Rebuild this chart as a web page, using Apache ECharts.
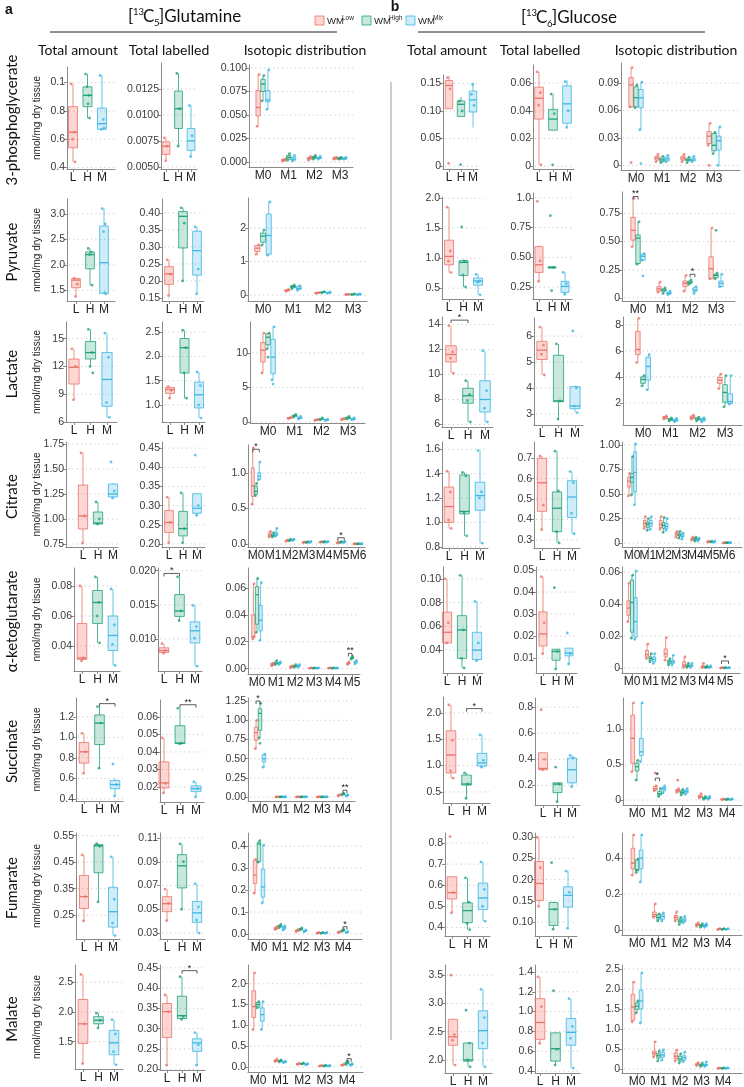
<!DOCTYPE html>
<html><head><meta charset="utf-8">
<script src="https://cdn.jsdelivr.net/npm/echarts@6/dist/echarts.min.js"></script>
<style>html,body{margin:0;padding:0;background:#fff}#c{width:744px;height:1087px}</style>
</head><body><div id="c"></div>
<script>
// ---------- categories ----------
const TOT = ['L', 'H', 'M'];
const ISO4 = ['M0', 'M1', 'M2', 'M3'];
const ISO5 = ['M0', 'M1', 'M2', 'M3', 'M4'];
const ISO6 = ['M0', 'M1', 'M2', 'M3', 'M4', 'M5'];
const ISO7 = ['M0', 'M1', 'M2', 'M3', 'M4', 'M5', 'M6'];
const GROUP_NAMES = ['Low', 'High', 'Mix'];
const ROW_NAMES = ['3-phosphoglycerate', 'Pyruvate', 'Lactate', 'Citrate', 'α-ketoglutarate', 'Succinate', 'Fumarate', 'Malate'];
const COL_NAMES = ['Total amount', 'Total labelled', 'Isotopic distribution'];

// box = [min, q1, median, q3, max] for L, H, M ; pts = visible points ; out = [isotopologue, group, value]
// ---- 3-phosphoglycerate ----
const pgQA_ticks = [0.4, 0.6, 0.8, 1.0];
const pgQA_labels = ['0.4', '0.6', '0.8', '0.1'];
const pgQA_box = [[0.44, 0.54, 0.65, 0.83, 0.99], [0.75, 0.83, 0.91, 0.97, 1.06], [0.67, 0.67, 0.71, 0.82, 1.05]];
const pgQA_pts = [[0.99, 0.65, 0.60, 0.44], [1.06, 0.91, 0.97, 0.75, 0.85], [1.05, 0.74, 0.67, 0.68]];
const pgQL_ticks = [0.005, 0.0075, 0.01, 0.0125];
const pgQL_labels = ['0.0050', '0.0075', '0.0100', '0.0125'];
const pgQL_box = [[0.0056, 0.0062, 0.0070, 0.0074, 0.0078], [0.0070, 0.0087, 0.0106, 0.0123, 0.0140], [0.0060, 0.0066, 0.0075, 0.0087, 0.0109]];
const pgQL_pts = [[0.0078, 0.0070, 0.0056], [0.0140, 0.0106, 0.0070], [0.0109, 0.0080, 0.0060]];
const pgQI_ticks = [0, 0.025, 0.05, 0.075, 0.1];
const pgQI_labels = ['0.000', '0.025', '0.050', '0.075', '0.100'];
const pgQI_box = [
  [[0.038, 0.049, 0.058, 0.076, 0.093], [0.065, 0.075, 0.083, 0.088, 0.092], [0.056, 0.064, 0.066, 0.076, 0.098]],
  [[0.001, 0.001, 0.002, 0.003, 0.003], [0.002, 0.003, 0.005, 0.007, 0.009], [0.001, 0.002, 0.003, 0.005, 0.007]],
  [[0.002, 0.003, 0.004, 0.005, 0.006], [0.003, 0.004, 0.005, 0.006, 0.007], [0.003, 0.004, 0.004, 0.005, 0.006]],
  [[0.003, 0.003, 0.004, 0.005, 0.005], [0.003, 0.003, 0.004, 0.005, 0.005], [0.003, 0.003, 0.004, 0.004, 0.005]]];
const pgGA_ticks = [0, 0.05, 0.1, 0.15];
const pgGA_labels = ['0', '0.05', '0.10', '0.15'];
const pgGA_box = [[0.104, 0.104, 0.146, 0.155, 0.163], [0.090, 0.090, 0.112, 0.118, 0.125], [0.070, 0.098, 0.120, 0.136, 0.151]];
const pgGA_pts = [[0.160, 0.140, 0.005], [0.118, 0.100, 0.003], [0.130, 0.110, 0.148]];
const pgGL_ticks = [0, 0.02, 0.04, 0.06];
const pgGL_labels = ['0', '0.02', '0.04', '0.06'];
const pgGL_box = [[0.001, 0.034, 0.049, 0.057, 0.068], [0.026, 0.026, 0.034, 0.041, 0.052], [0.028, 0.031, 0.045, 0.058, 0.062]];
const pgGL_pts = [[0.068, 0.053, 0.044, 0.001], [0.052, 0.038, 0.001], [0.061, 0.040, 0.028]];
const pgGI_ticks = [0, 0.03, 0.06, 0.09];
const pgGI_labels = ['0', '0.03', '0.06', '0.09'];
const pgGI_box = [
  [[0.064, 0.064, 0.088, 0.096, 0.107], [0.063, 0.064, 0.074, 0.086, 0.088], [0.039, 0.063, 0.074, 0.083, 0.091]],
  [[0.004, 0.006, 0.008, 0.010, 0.012], [0.003, 0.004, 0.006, 0.008, 0.010], [0.004, 0.005, 0.007, 0.009, 0.011]],
  [[0.004, 0.006, 0.008, 0.010, 0.012], [0.003, 0.005, 0.006, 0.007, 0.009], [0.004, 0.005, 0.006, 0.008, 0.010]],
  [[0.022, 0.024, 0.032, 0.037, 0.046], [0.013, 0.016, 0.022, 0.035, 0.036], [0.0, 0.017, 0.027, 0.032, 0.042]]];
const pgGI_out = [[0, 0, 0.003], [0, 2, 0.002], [3, 0, 0.0]];

// ---- Pyruvate ----
const pyrQA_ticks = [1.5, 2, 2.5, 3];
const pyrQA_labels = ['1.5', '2.0', '2.5', '3.0'];
const pyrQA_box = [[1.38, 1.55, 1.70, 1.73, 1.74], [1.60, 1.92, 2.20, 2.25, 2.32], [1.43, 1.44, 2.04, 2.76, 3.10]];
const pyrQA_pts = [[1.74, 1.62, 1.38], [2.32, 2.25, 2.20, 1.60], [3.10, 2.80, 2.65, 1.43, 1.45]];
const pyrQL_ticks = [0.15, 0.2, 0.25, 0.3, 0.35, 0.4];
const pyrQL_labels = ['0.15', '0.20', '0.25', '0.30', '0.35', '0.40'];
const pyrQL_box = [[0.157, 0.190, 0.221, 0.242, 0.262], [0.200, 0.297, 0.390, 0.404, 0.415], [0.162, 0.217, 0.289, 0.346, 0.359]];
const pyrQL_pts = [[0.262, 0.220, 0.157], [0.415, 0.370, 0.200], [0.359, 0.235, 0.162]];
const pyrQI_ticks = [0, 1, 2];
const pyrQI_labels = ['0', '1', '2'];
const pyrQI_box = [
  [[1.22, 1.30, 1.40, 1.48, 1.50], [1.49, 1.58, 1.76, 1.85, 1.94], [1.19, 1.22, 1.78, 2.42, 2.78]],
  [[0.11, 0.12, 0.14, 0.16, 0.17], [0.18, 0.22, 0.25, 0.28, 0.30], [0.14, 0.17, 0.20, 0.25, 0.28]],
  [[0.05, 0.06, 0.07, 0.07, 0.08], [0.06, 0.07, 0.08, 0.09, 0.10], [0.05, 0.06, 0.07, 0.08, 0.09]],
  [[0.01, 0.01, 0.02, 0.02, 0.02], [0.01, 0.02, 0.02, 0.02, 0.03], [0.01, 0.01, 0.02, 0.02, 0.03]]];
const pyrGA_ticks = [0.5, 1, 1.5, 2];
const pyrGA_labels = ['0.5', '1.0', '1.5', '2.0'];
const pyrGA_box = [[0.76, 0.89, 1.03, 1.30, 1.85], [0.52, 0.71, 0.93, 0.96, 0.98], [0.39, 0.55, 0.62, 0.67, 0.73]];
const pyrGA_pts = [[1.85, 1.12, 0.95, 0.76], [1.52, 0.95, 0.72, 0.52], [0.73, 0.62, 0.60, 0.39]];
const pyrGL_ticks = [0.25, 0.5, 0.75, 1.0];
const pyrGL_labels = ['0.25', '0.50', '0.75', '1.0'];
const pyrGL_box = [[0.298, 0.373, 0.437, 0.590, 0.600], [0.410, 0.410, 0.415, 0.420, 0.420], [0.186, 0.206, 0.256, 0.298, 0.373]];
const pyrGL_pts = [[0.97, 0.47, 0.298], [0.85, 0.415, 0.22], [0.373, 0.28, 0.19]];
const pyrGI_ticks = [0, 0.25, 0.5, 0.75];
const pyrGI_labels = ['0', '0.25', '0.50', '0.75'];
const pyrGI_box = [
  [[0.454, 0.513, 0.600, 0.715, 0.884], [0.300, 0.305, 0.530, 0.558, 0.675], [0.335, 0.335, 0.370, 0.388, 0.394]],
  [[0.05, 0.06, 0.08, 0.10, 0.14], [0.04, 0.06, 0.07, 0.08, 0.09], [0.03, 0.035, 0.04, 0.05, 0.06]],
  [[0.06, 0.10, 0.13, 0.15, 0.20], [0.12, 0.13, 0.14, 0.15, 0.16], [0.04, 0.06, 0.07, 0.09, 0.10]],
  [[0.17, 0.17, 0.26, 0.365, 0.62], [0.17, 0.18, 0.20, 0.21, 0.22], [0.10, 0.10, 0.13, 0.15, 0.21]]];
const pyrGI_out = [[0, 2, 0.196], [3, 1, 0.60]];
const pyrGI_ann = [[-0.19, 0, 0.90, '**'], [2, 2.19, 0.21, '*']];

// ---- Lactate ----
const lacQA_ticks = [6, 9, 12, 15];
const lacQA_labels = ['6', '9', '12', '15'];
const lacQA_box = [[8.4, 10.1, 11.9, 12.8, 13.9], [12.0, 12.8, 13.5, 14.7, 16.0], [6.5, 7.7, 10.6, 13.5, 15.6]];
const lacQA_pts = [[13.9, 12.0, 8.4], [16.0, 13.5, 12.0, 11.3], [15.6, 13.0, 8.1, 6.5]];
const lacQL_ticks = [1, 1.5, 2, 2.5];
const lacQL_labels = ['1.0', '1.5', '2.0', '2.5'];
const lacQL_box = [[1.14, 1.24, 1.32, 1.36, 1.38], [1.14, 1.66, 2.18, 2.37, 2.54], [0.73, 0.94, 1.21, 1.47, 1.68]];
const lacQL_pts = [[1.38, 1.30, 1.14], [2.54, 2.18, 1.66, 1.14], [1.68, 1.40, 1.00, 0.73]];
const lacQI_ticks = [0, 5, 10];
const lacQI_labels = ['0', '5', '10'];
const lacQI_box = [
  [[7.1, 8.7, 10.4, 11.5, 12.9], [10.6, 11.2, 12.3, 12.8, 12.9], [6.1, 7.0, 9.4, 12.0, 13.8]],
  [[0.45, 0.5, 0.6, 0.65, 0.7], [0.7, 0.8, 0.9, 1.0, 1.1], [0.4, 0.5, 0.6, 0.7, 0.8]],
  [[0.2, 0.25, 0.3, 0.35, 0.4], [0.3, 0.4, 0.45, 0.5, 0.6], [0.2, 0.25, 0.3, 0.35, 0.4]],
  [[0.3, 0.35, 0.4, 0.45, 0.5], [0.4, 0.5, 0.6, 0.7, 0.8], [0.3, 0.35, 0.4, 0.5, 0.6]]];
const lacQI_out = [[0, 1, 9.4], [0, 2, 5.5]];
const lacGA_ticks = [6, 8, 10, 12, 14];
const lacGA_labels = ['6', '8', '10', '12', '14'];
const lacGA_box = [[10.1, 11.0, 11.6, 12.3, 13.9], [6.2, 7.7, 8.3, 8.9, 9.5], [6.2, 7.0, 8.0, 9.5, 11.9]];
const lacGA_pts = [[13.9, 11.8, 11.3, 10.1], [9.5, 8.4, 7.9, 6.2], [11.9, 8.7, 7.3, 6.2]];
const lacGA_ann = [[0, 1, 14.35, '*']];
const lacGL_ticks = [3, 4, 5, 6];
const lacGL_labels = ['3', '4', '5', '6'];
const lacGL_box = [[4.5, 5.1, 5.46, 5.8, 6.35], [2.8, 3.47, 3.5, 5.26, 5.7], [3.05, 3.2, 3.3, 4.05, 4.1]];
const lacGL_pts = [[6.35, 5.65, 5.3, 4.5], [5.7, 3.5, 2.8], [6.2, 4.0, 3.3, 3.05]];
const lacGI_ticks = [2, 4, 6, 8];
const lacGI_labels = ['2', '4', '6', '8'];
const lacGI_box = [
  [[5.1, 5.7, 6.1, 7.5, 8.5], [3.3, 3.5, 3.8, 4.0, 4.1], [3.0, 3.75, 4.8, 5.5, 5.7]],
  [[0.75, 0.8, 0.9, 0.95, 1.0], [0.6, 0.65, 0.75, 0.8, 0.85], [0.55, 0.6, 0.65, 0.75, 0.8]],
  [[0.75, 0.8, 0.9, 1.0, 1.05], [0.6, 0.7, 0.75, 0.85, 0.9], [0.55, 0.6, 0.7, 0.8, 0.85]],
  [[3.1, 3.5, 3.75, 3.95, 4.2], [1.7, 2.05, 2.8, 3.4, 4.1], [1.9, 1.95, 2.1, 2.7, 4.1]]];

// ---- Citrate ----
const citQA_ticks = [0.75, 1, 1.25, 1.5, 1.75];
const citQA_labels = ['0.75', '1.00', '1.25', '1.50', '1.75'];
const citQA_box = [[0.76, 0.90, 1.03, 1.34, 1.66], [0.94, 0.95, 0.96, 1.07, 1.17], [1.21, 1.22, 1.25, 1.35, 1.36]];
const citQA_pts = [[1.66, 1.03, 0.76], [1.17, 1.00, 0.95], [1.57, 1.28, 1.21]];
const citQL_ticks = [0.2, 0.25, 0.3, 0.35, 0.4, 0.45];
const citQL_labels = ['0.20', '0.25', '0.30', '0.35', '0.40', '0.45'];
const citQL_box = [[0.203, 0.230, 0.256, 0.287, 0.322], [0.203, 0.221, 0.240, 0.285, 0.333], [0.272, 0.280, 0.293, 0.331, 0.331]];
const citQL_pts = [[0.322, 0.256, 0.203], [0.333, 0.240, 0.203], [0.432, 0.300, 0.275]];
const citQI_ticks = [0, 0.5, 1];
const citQI_labels = ['0.0', '0.5', '1.0'];
const citQI_box = [
  [[0.56, 0.67, 0.82, 1.07, 1.35], [0.68, 0.70, 0.74, 0.81, 0.85], [0.90, 0.91, 0.95, 1.00, 1.15]],
  [[0.10, 0.11, 0.13, 0.16, 0.18], [0.10, 0.11, 0.12, 0.14, 0.16], [0.11, 0.12, 0.14, 0.16, 0.22]],
  [[0.04, 0.045, 0.05, 0.055, 0.06], [0.045, 0.05, 0.055, 0.06, 0.07], [0.05, 0.055, 0.06, 0.065, 0.07]],
  [[0.02, 0.02, 0.025, 0.03, 0.03], [0.02, 0.025, 0.03, 0.03, 0.035], [0.02, 0.025, 0.03, 0.035, 0.04]],
  [[0.025, 0.03, 0.03, 0.035, 0.035], [0.025, 0.03, 0.032, 0.035, 0.04], [0.025, 0.03, 0.032, 0.035, 0.04]],
  [[0.015, 0.02, 0.02, 0.025, 0.03], [0.02, 0.025, 0.03, 0.03, 0.035], [0.02, 0.025, 0.03, 0.03, 0.035]],
  [[0.003, 0.004, 0.005, 0.006, 0.007], [0.003, 0.004, 0.005, 0.006, 0.007], [0.003, 0.004, 0.005, 0.006, 0.007]]];
const citQI_ann = [[-0.19, 0.19, 1.33, '*'], [4.81, 5.19, 0.09, '*']];
const citGA_ticks = [0.8, 1, 1.2, 1.4, 1.6];
const citGA_labels = ['0.8', '1.0', '1.2', '1.4', '1.6'];
const citGA_box = [[0.95, 1.00, 1.13, 1.29, 1.42], [0.89, 1.07, 1.09, 1.39, 1.41], [0.83, 1.10, 1.22, 1.33, 1.59]];
const citGA_pts = [[1.42, 1.25, 1.02, 0.95], [1.41, 1.38, 1.08, 0.89], [1.59, 1.25, 1.20, 0.83]];
const citGL_ticks = [0.3, 0.4, 0.5, 0.6, 0.7];
const citGL_labels = ['0.3', '0.4', '0.5', '0.6', '0.7'];
const citGL_box = [[0.35, 0.44, 0.58, 0.70, 0.71], [0.285, 0.34, 0.455, 0.535, 0.735], [0.33, 0.41, 0.51, 0.59, 0.635]];
const citGL_pts = [[0.71, 0.47, 0.35], [0.735, 0.54, 0.34, 0.285], [0.635, 0.58, 0.43, 0.33]];
const citGI_ticks = [0, 0.25, 0.5, 0.75, 1];
const citGI_labels = ['0', '0.25', '0.50', '0.75', '1.00'];
const citGI_box = [
  [[0.48, 0.57, 0.63, 0.67, 0.71], [0.49, 0.62, 0.67, 0.71, 0.88], [0.39, 0.52, 0.72, 0.93, 1.01]],
  [[0.15, 0.17, 0.20, 0.23, 0.27], [0.13, 0.16, 0.19, 0.21, 0.25], [0.14, 0.17, 0.20, 0.23, 0.27]],
  [[0.14, 0.16, 0.19, 0.23, 0.27], [0.11, 0.15, 0.18, 0.21, 0.26], [0.13, 0.15, 0.17, 0.20, 0.25]],
  [[0.06, 0.08, 0.09, 0.11, 0.12], [0.05, 0.07, 0.08, 0.10, 0.12], [0.04, 0.06, 0.07, 0.09, 0.10]],
  [[0.03, 0.035, 0.045, 0.05, 0.06], [0.02, 0.03, 0.04, 0.05, 0.06], [0.02, 0.03, 0.035, 0.045, 0.05]],
  [[0.01, 0.012, 0.015, 0.018, 0.02], [0.01, 0.012, 0.014, 0.016, 0.02], [0.008, 0.01, 0.012, 0.015, 0.02]],
  [[0.002, 0.003, 0.004, 0.005, 0.006], [0.002, 0.003, 0.004, 0.005, 0.006], [0.002, 0.003, 0.004, 0.005, 0.006]]];

// ---- alpha-ketoglutarate ----
const akgQA_ticks = [0.04, 0.06, 0.08];
const akgQA_labels = ['0.04', '0.06', '0.08'];
const akgQA_box = [[0.030, 0.031, 0.032, 0.055, 0.080], [0.042, 0.055, 0.069, 0.077, 0.086], [0.027, 0.037, 0.047, 0.060, 0.078]];
const akgQA_pts = [[0.080, 0.032, 0.030], [0.086, 0.069, 0.060, 0.042], [0.078, 0.054, 0.041, 0.027]];
const akgQL_ticks = [0.01, 0.015, 0.02];
const akgQL_labels = ['0.010', '0.015', '0.020'];
const akgQL_box = [[0.0079, 0.0080, 0.0083, 0.0087, 0.0093], [0.0127, 0.0133, 0.0141, 0.0165, 0.0191], [0.0060, 0.0094, 0.0112, 0.0125, 0.0149]];
const akgQL_pts = [[0.0093, 0.0083, 0.0079], [0.0191, 0.0141, 0.0127], [0.0149, 0.0118, 0.0101, 0.0060]];
const akgQL_ann = [[0, 1, 0.0196, '*']];
const akgQI_ticks = [0, 0.02, 0.04, 0.06];
const akgQI_labels = ['0.00', '0.02', '0.04', '0.06'];
const akgQI_box = [
  [[0.022, 0.023, 0.024, 0.040, 0.063], [0.027, 0.033, 0.055, 0.061, 0.067], [0.021, 0.028, 0.036, 0.047, 0.064]],
  [[0.002, 0.0025, 0.003, 0.004, 0.004], [0.003, 0.0035, 0.004, 0.005, 0.006], [0.003, 0.0035, 0.004, 0.0045, 0.005]],
  [[0.0005, 0.001, 0.0015, 0.002, 0.002], [0.001, 0.0015, 0.002, 0.0025, 0.003], [0.001, 0.0015, 0.002, 0.0025, 0.003]],
  [[0.0002, 0.0003, 0.0004, 0.0005, 0.0006], [0.0002, 0.0003, 0.0004, 0.0005, 0.0006], [0.0002, 0.0003, 0.0004, 0.0005, 0.0006]],
  [[0.0002, 0.0003, 0.0004, 0.0005, 0.0006], [0.0002, 0.0003, 0.0004, 0.0005, 0.0006], [0.0002, 0.0003, 0.0004, 0.0005, 0.0006]],
  [[0.003, 0.0035, 0.004, 0.0045, 0.005], [0.007, 0.0075, 0.008, 0.0085, 0.009], [0.0035, 0.004, 0.005, 0.0055, 0.006]]];
const akgQI_ann = [[4.81, 5.0, 0.0113, '**']];
const akgGA_ticks = [0.04, 0.06, 0.08, 0.1];
const akgGA_labels = ['0.04', '0.06', '0.08', '0.10'];
const akgGA_box = [[0.045, 0.046, 0.055, 0.072, 0.100], [0.025, 0.033, 0.057, 0.069, 0.103], [0.031, 0.032, 0.040, 0.055, 0.081]];
const akgGA_pts = [[0.100, 0.063, 0.046], [0.103, 0.057, 0.033, 0.025], [0.081, 0.046, 0.031]];
const akgGL_ticks = [0.01, 0.02, 0.03, 0.04, 0.05];
const akgGL_labels = ['0.01', '0.02', '0.03', '0.04', '0.05'];
const akgGL_box = [[0.012, 0.0155, 0.021, 0.031, 0.047], [0.005, 0.009, 0.013, 0.014, 0.014], [0.0073, 0.011, 0.0123, 0.0145, 0.0145]];
const akgGL_pts = [[0.047, 0.026, 0.012], [0.042, 0.013, 0.005], [0.0214, 0.012, 0.0073]];
const akgGI_ticks = [0, 0.02, 0.04, 0.06];
const akgGI_labels = ['0', '0.02', '0.04', '0.06'];
const akgGI_box = [
  [[0.029, 0.033, 0.0375, 0.042, 0.053], [0.0187, 0.0225, 0.041, 0.055, 0.058], [0.018, 0.0194, 0.029, 0.044, 0.0606]],
  [[0.006, 0.007, 0.0085, 0.011, 0.015], [0.004, 0.005, 0.006, 0.007, 0.009], [0.003, 0.004, 0.0055, 0.007, 0.009]],
  [[0.005, 0.007, 0.009, 0.012, 0.019], [0.002, 0.003, 0.004, 0.005, 0.006], [0.002, 0.003, 0.004, 0.005, 0.008]],
  [[0.0005, 0.001, 0.002, 0.004, 0.007], [0.0005, 0.001, 0.0015, 0.002, 0.003], [0.0005, 0.001, 0.0015, 0.002, 0.003]],
  [[0.0003, 0.0005, 0.001, 0.0015, 0.003], [0.0002, 0.0004, 0.0006, 0.001, 0.0015], [0.0002, 0.0004, 0.0006, 0.001, 0.0015]],
  [[0.0001, 0.0002, 0.0003, 0.0004, 0.0005], [0.0001, 0.0002, 0.0003, 0.0004, 0.0005], [0.0001, 0.0002, 0.0003, 0.0004, 0.0005]]];
const akgGI_ann = [[4.81, 5.19, 0.0045, '*']];

// ---- Succinate ----
const sucQA_ticks = [0.4, 0.6, 0.8, 1.0, 1.2];
const sucQA_labels = ['0.4', '0.6', '0.8', '1.0', '1.2'];
const sucQA_box = [[0.65, 0.75, 0.86, 0.95, 1.04], [0.70, 0.93, 1.14, 1.22, 1.30], [0.43, 0.50, 0.54, 0.58, 0.60]];
const sucQA_pts = [[1.04, 0.86, 0.65], [1.30, 1.14, 0.70], [0.74, 0.54, 0.43]];
const sucQA_ann = [[1, 2, 1.33, '*']];
const sucQL_ticks = [0.02, 0.03, 0.04, 0.05, 0.06];
const sucQL_labels = ['0.02', '0.03', '0.04', '0.05', '0.06'];
const sucQL_box = [[0.0166, 0.0194, 0.0223, 0.0343, 0.048], [0.0447, 0.0448, 0.045, 0.055, 0.065], [0.0143, 0.0173, 0.019, 0.0206, 0.0229]];
const sucQL_pts = [[0.048, 0.022, 0.0166], [0.065, 0.045, 0.0447], [0.0229, 0.019, 0.0143]];
const sucQL_ann = [[1, 2, 0.067, '**']];
const sucQI_ticks = [0, 0.25, 0.5, 0.75, 1, 1.25];
const sucQI_labels = ['0.00', '0.25', '0.50', '0.75', '1.00', '1.25'];
const sucQI_box = [
  [[0.63, 0.74, 0.84, 0.91, 1.00], [0.77, 0.87, 1.09, 1.15, 1.22], [0.39, 0.46, 0.50, 0.55, 0.56]],
  [[0.002, 0.003, 0.004, 0.005, 0.006], [0.002, 0.003, 0.004, 0.005, 0.006], [0.002, 0.003, 0.004, 0.005, 0.006]],
  [[0.002, 0.003, 0.004, 0.005, 0.006], [0.002, 0.003, 0.004, 0.005, 0.006], [0.002, 0.003, 0.004, 0.005, 0.006]],
  [[0.002, 0.003, 0.004, 0.005, 0.006], [0.002, 0.003, 0.004, 0.005, 0.006], [0.002, 0.003, 0.004, 0.005, 0.006]],
  [[0.015, 0.02, 0.025, 0.03, 0.03], [0.03, 0.035, 0.04, 0.045, 0.05], [0.015, 0.02, 0.025, 0.025, 0.03]]];
const sucQI_out = [[0, 1, 0.70]];
const sucQI_ann = [[-0.19, 0, 1.25, '*'], [4.0, 4.19, 0.09, '**']];
const sucGA_ticks = [0.5, 1, 1.5, 2];
const sucGA_labels = ['0.5', '1.0', '1.5', '2.0'];
const sucGA_box = [[0.76, 0.86, 1.20, 1.66, 2.15], [0.38, 0.63, 0.65, 0.82, 0.86], [0.96, 0.99, 1.05, 1.23, 1.58]];
const sucGA_pts = [[2.15, 1.48, 0.90, 0.76], [0.86, 0.65, 0.38], [1.58, 1.10, 0.97]];
const sucGA_ann = [[1, 2, 2.08, '*']];
const sucGL_ticks = [0.2, 0.4, 0.6, 0.8];
const sucGL_labels = ['0.2', '0.4', '0.6', '0.8'];
const sucGL_box = [[0.32, 0.32, 0.33, 0.45, 0.45], [0.075, 0.145, 0.21, 0.22, 0.22], [0.19, 0.22, 0.32, 0.41, 0.43]];
const sucGL_pts = [[0.78, 0.40, 0.32], [0.34, 0.21, 0.075], [0.43, 0.41, 0.19]];
const sucGI_ticks = [0, 0.5, 1];
const sucGI_labels = ['0', '0.5', '1.0'];
const sucGI_box = [
  [[0.40, 0.52, 0.87, 1.20, 1.37], [0.28, 0.41, 0.47, 0.52, 0.56], [0.54, 0.63, 0.68, 0.87, 1.37]],
  [[0.13, 0.14, 0.16, 0.19, 0.20], [0.05, 0.07, 0.09, 0.12, 0.16], [0.10, 0.13, 0.16, 0.18, 0.20]],
  [[0.11, 0.12, 0.14, 0.15, 0.16], [0.07, 0.09, 0.11, 0.13, 0.15], [0.08, 0.10, 0.12, 0.14, 0.16]],
  [[0.03, 0.04, 0.05, 0.07, 0.09], [0.01, 0.02, 0.03, 0.04, 0.05], [0.01, 0.02, 0.03, 0.04, 0.05]],
  [[0.005, 0.007, 0.01, 0.012, 0.015], [0.005, 0.007, 0.01, 0.012, 0.015], [0.005, 0.007, 0.01, 0.012, 0.015]]];
const sucGI_out = [[1, 0, 0.38], [2, 0, 0.28]];
const sucGI_ann = [[0.81, 1.0, 0.31, '*']];

// ---- Fumarate ----
const fumQA_ticks = [0.25, 0.35, 0.45, 0.55];
const fumQA_labels = ['0.25', '0.35', '0.45', '0.55'];
const fumQA_box = [[0.228, 0.275, 0.320, 0.400, 0.477], [0.300, 0.410, 0.512, 0.516, 0.520], [0.173, 0.205, 0.263, 0.355, 0.470]];
const fumQA_pts = [[0.477, 0.320, 0.228], [0.520, 0.510, 0.300], [0.470, 0.310, 0.220, 0.173]];
const fumQL_ticks = [0.03, 0.05, 0.07, 0.09, 0.11];
const fumQL_labels = ['0.03', '0.05', '0.07', '0.09', '0.11'];
const fumQL_box = [[0.0404, 0.048, 0.0547, 0.0606, 0.067], [0.050, 0.068, 0.0866, 0.096, 0.105], [0.030, 0.039, 0.047, 0.0566, 0.0715]];
const fumQL_pts = [[0.067, 0.055, 0.0404], [0.105, 0.090, 0.050], [0.0715, 0.052, 0.041, 0.030]];
const fumQI_ticks = [0, 0.1, 0.2, 0.3, 0.4];
const fumQI_labels = ['0.0', '0.1', '0.2', '0.3', '0.4'];
const fumQI_box = [
  [[0.186, 0.23, 0.268, 0.336, 0.34], [0.327, 0.33, 0.41, 0.418, 0.425], [0.141, 0.168, 0.214, 0.295, 0.405]],
  [[0.02, 0.022, 0.025, 0.03, 0.033], [0.028, 0.032, 0.036, 0.04, 0.043], [0.018, 0.022, 0.028, 0.033, 0.037]],
  [[0.01, 0.012, 0.015, 0.017, 0.02], [0.018, 0.02, 0.022, 0.025, 0.028], [0.01, 0.012, 0.014, 0.016, 0.018]],
  [[0.003, 0.004, 0.005, 0.006, 0.007], [0.003, 0.004, 0.005, 0.006, 0.007], [0.003, 0.004, 0.005, 0.006, 0.007]],
  [[0.006, 0.007, 0.008, 0.009, 0.01], [0.012, 0.014, 0.016, 0.018, 0.02], [0.006, 0.007, 0.008, 0.009, 0.01]]];
const fumQI_ann = [[4.0, 4.19, 0.033, '*']];
const fumGA_ticks = [0.4, 0.5, 0.6, 0.7, 0.8];
const fumGA_labels = ['0.4', '0.5', '0.6', '0.7', '0.8'];
const fumGA_box = [[0.47, 0.535, 0.565, 0.64, 0.64], [0.39, 0.423, 0.48, 0.517, 0.635], [0.43, 0.485, 0.54, 0.61, 0.71]];
const fumGA_pts = [[0.83, 0.565, 0.47], [0.635, 0.52, 0.42, 0.39], [0.71, 0.58, 0.50, 0.43]];
const fumGL_ticks = [0.1, 0.15, 0.2, 0.25, 0.3];
const fumGL_labels = ['0.10', '0.15', '0.20', '0.25', '0.30'];
const fumGL_box = [[0.137, 0.151, 0.191, 0.243, 0.30], [0.083, 0.092, 0.13, 0.146, 0.148], [0.085, 0.135, 0.163, 0.183, 0.22]];
const fumGL_pts = [[0.30, 0.228, 0.137], [0.24, 0.13, 0.083], [0.22, 0.17, 0.085]];
const fumGI_ticks = [0, 0.2, 0.4];
const fumGI_labels = ['0', '0.2', '0.4'];
const fumGI_box = [
  [[0.305, 0.34, 0.372, 0.455, 0.53], [0.32, 0.33, 0.335, 0.39, 0.395], [0.267, 0.34, 0.40, 0.445, 0.53]],
  [[0.07, 0.075, 0.085, 0.10, 0.145], [0.05, 0.06, 0.07, 0.085, 0.09], [0.05, 0.06, 0.075, 0.085, 0.095]],
  [[0.05, 0.06, 0.07, 0.08, 0.10], [0.03, 0.04, 0.05, 0.06, 0.07], [0.04, 0.045, 0.055, 0.065, 0.075]],
  [[0.02, 0.025, 0.03, 0.035, 0.04], [0.015, 0.02, 0.025, 0.03, 0.035], [0.015, 0.02, 0.025, 0.03, 0.035]],
  [[0.002, 0.003, 0.005, 0.006, 0.008], [0.002, 0.003, 0.005, 0.006, 0.008], [0.002, 0.003, 0.005, 0.006, 0.008]]];

// ---- Malate ----
const malQA_ticks = [1.5, 2, 2.5];
const malQA_labels = ['1.5', '2.0', '2.5'];
const malQA_box = [[1.13, 1.47, 1.80, 2.21, 2.63], [1.73, 1.80, 1.86, 1.92, 1.98], [1.11, 1.28, 1.48, 1.69, 1.87]];
const malQA_pts = [[2.63, 1.80, 1.13], [1.98, 1.86, 1.73], [1.87, 1.63, 1.33, 1.11]];
const malQL_ticks = [0.2, 0.25, 0.3, 0.35, 0.4, 0.45];
const malQL_labels = ['0.20', '0.25', '0.30', '0.35', '0.40', '0.45'];
const malQL_box = [[0.21, 0.278, 0.342, 0.362, 0.383], [0.323, 0.325, 0.332, 0.38, 0.428], [0.21, 0.244, 0.265, 0.275, 0.29]];
const malQL_pts = [[0.383, 0.342, 0.21], [0.428, 0.33, 0.323], [0.29, 0.26, 0.21]];
const malQL_ann = [[1, 2, 0.443, '*']];
const malQI_ticks = [0, 0.5, 1, 1.5, 2];
const malQI_labels = ['0.0', '0.5', '1.0', '1.5', '2.0'];
const malQI_box = [
  [[0.90, 1.19, 1.45, 1.83, 2.26], [1.42, 1.44, 1.50, 1.55, 1.57], [0.90, 1.10, 1.26, 1.42, 1.57]],
  [[0.13, 0.14, 0.15, 0.17, 0.19], [0.12, 0.13, 0.15, 0.16, 0.17], [0.10, 0.11, 0.12, 0.13, 0.14]],
  [[0.06, 0.065, 0.07, 0.08, 0.09], [0.07, 0.075, 0.08, 0.09, 0.10], [0.05, 0.06, 0.065, 0.07, 0.08]],
  [[0.02, 0.025, 0.03, 0.035, 0.04], [0.02, 0.03, 0.035, 0.04, 0.045], [0.02, 0.025, 0.03, 0.035, 0.04]],
  [[0.04, 0.045, 0.05, 0.06, 0.07], [0.06, 0.08, 0.10, 0.12, 0.14], [0.04, 0.05, 0.06, 0.07, 0.08]]];
const malQI_ann = [[4.0, 4.19, 0.2, '*']];
const malGA_ticks = [2, 2.5, 3, 3.5];
const malGA_labels = ['2.0', '2.5', '3.0', '3.5'];
const malGA_box = [[1.91, 2.26, 2.41, 2.72, 2.72], [1.88, 1.98, 2.00, 2.30, 2.30], [1.88, 2.20, 2.52, 2.87, 3.25]];
const malGA_pts = [[3.50, 2.45, 2.35, 1.91], [2.88, 2.30, 2.00, 1.88], [3.25, 2.75, 2.30, 1.88]];
const malGL_ticks = [0.4, 0.6, 0.8, 1.0, 1.2, 1.4];
const malGL_labels = ['0.4', '0.6', '0.8', '1.0', '1.2', '1.4'];
const malGL_box = [[0.67, 0.72, 0.89, 1.13, 1.35], [0.46, 0.50, 0.625, 0.785, 0.79], [0.43, 0.66, 0.79, 0.93, 1.13]];
const malGL_pts = [[1.35, 1.05, 0.68], [1.21, 0.62, 0.46], [1.13, 0.85, 0.73, 0.43]];
const malGI_ticks = [0, 0.5, 1, 1.5, 2, 2.5];
const malGI_labels = ['0', '0.5', '1.0', '1.5', '2.0', '2.5'];
const malGI_box = [
  [[1.18, 1.22, 1.55, 1.87, 2.17], [1.40, 1.49, 1.57, 1.65, 1.70], [1.15, 1.50, 1.70, 1.97, 2.40]],
  [[0.30, 0.35, 0.40, 0.45, 0.68], [0.20, 0.27, 0.33, 0.38, 0.45], [0.22, 0.30, 0.35, 0.42, 0.48]],
  [[0.20, 0.26, 0.32, 0.40, 0.47], [0.15, 0.20, 0.25, 0.32, 0.38], [0.18, 0.22, 0.28, 0.33, 0.42]],
  [[0.08, 0.10, 0.12, 0.14, 0.16], [0.06, 0.08, 0.10, 0.12, 0.15], [0.06, 0.08, 0.10, 0.12, 0.18]],
  [[0.01, 0.015, 0.02, 0.025, 0.03], [0.01, 0.015, 0.02, 0.025, 0.03], [0.01, 0.015, 0.02, 0.025, 0.03]]];

// ---------- layout: [axisLeftPx, axisRightPx, firstCatPx, lastCatPx, topPx, bottomPx, yMin, yMax] ----------
const LAYOUT = {
  pgQA: [67, 115, 73, 102, 67, 169, 0.39, 1.11], pgQL: [161, 197, 166, 191, 63, 169, 0.0048, 0.0150],
  pgQI: [249, 353, 263, 340, 65, 167, -0.0053, 0.1032], pgGA: [443, 478, 449, 473, 75, 169, -0.005, 0.165],
  pgGL: [533, 574, 539, 567, 65, 169, -0.002, 0.073], pgGI: [621, 740, 636, 714, 63, 170, -0.005, 0.112],
  pyrQA: [67, 115, 76, 104, 199, 301, 1.29, 3.29], pyrQL: [162, 204, 169, 197, 199, 301, 0.141, 0.441],
  pyrQI: [248, 367, 263, 353, 198, 301, -0.18, 2.9], pyrGA: [442, 484, 449, 478, 197, 299, 0.32, 2.02],
  pyrGL: [533, 572, 539, 565, 193, 299, 0.15, 1.04], pyrGI: [622, 735, 638, 716, 192, 301, -0.027, 0.94],
  lacQA: [66, 117, 74, 107, 322, 422, 6.0, 16.8], lacQL: [162, 205, 170, 199, 322, 422, 0.65, 2.71],
  lacQI: [250, 365, 268, 348, 322, 423, -0.15, 14.5], lacGA: [442, 493, 451, 485, 317, 427, 5.8, 14.6],
  lacGL: [534, 583, 542, 575, 318, 425, 2.57, 6.7], lacGI: [623, 742, 643, 725, 317, 425, 0.3, 8.6],
  citQA: [66, 118, 83, 113, 442, 547, 0.72, 1.77], citQL: [162, 205, 169, 197, 442, 547, 0.192, 0.466],
  citQI: [248, 365, 256, 358, 445, 547, -0.04, 1.39], citGA: [442, 488, 449, 480, 442, 548, 0.79, 1.66],
  citGL: [534, 580, 542, 572, 442, 548, 0.26, 0.78], citGI: [622, 742, 632, 727, 442, 547, -0.04, 1.03],
  akgQA: [74, 120, 82, 113, 568, 671, 0.0233, 0.092], akgQL: [158, 202, 164, 195, 568, 671, 0.0053, 0.0204],
  akgQI: [248, 360, 257, 352, 568, 674, -0.004, 0.0748], akgGA: [443, 483, 447, 477, 567, 673, 0.0207, 0.110],
  akgGL: [536, 577, 543, 569, 567, 673, 0.0032, 0.0514], akgGI: [622, 740, 632, 725, 567, 673, -0.003, 0.0631],
  sucQA: [76, 123, 84, 115, 698, 801, 0.38, 1.385], sucQL: [160, 204, 164, 196, 700, 802, 0.0114, 0.0697],
  sucQI: [248, 355, 260, 343, 698, 801, -0.05, 1.29], sucGA: [443, 490, 451, 482, 697, 803, 0.29, 2.3],
  sucGL: [535, 580, 543, 572, 698, 805, 0.05, 0.87], sucGI: [623, 742, 637, 727, 698, 805, -0.07, 1.44],
  fumQA: [76, 120, 84, 113, 833, 939, 0.16, 0.56], fumQL: [160, 205, 167, 197, 833, 939, 0.025, 0.1142],
  fumQI: [248, 362, 259, 343, 833, 939, -0.023, 0.46], fumGA: [445, 490, 452, 483, 833, 936, 0.36, 0.847],
  fumGL: [535, 577, 539, 568, 833, 936, 0.067, 0.31], fumGI: [622, 742, 637, 723, 833, 935, -0.028, 0.54],
  malQA: [75, 123, 83, 114, 965, 1069, 1.04, 2.79], malQL: [160, 205, 167, 197, 965, 1070, 0.198, 0.457],
  malQI: [248, 363, 258, 347, 965, 1072, -0.12, 2.45], malGA: [445, 492, 453, 483, 965, 1073, 1.77, 3.68],
  malGL: [535, 580, 540, 571, 965, 1073, 0.38, 1.47], malGI: [622, 742, 637, 723, 965, 1073, -0.1, 2.6]
};

// ---------- styles ----------
const COLORS = ['#E8746A', '#22A27A', '#3DB6E3'];
const FILLS = ['rgba(248,118,109,0.30)', 'rgba(34,162,122,0.25)', 'rgba(61,182,227,0.25)'];
const AX = '#8a8a8a';
const TICKFONT = 'Liberation Sans, Arial, sans-serif';
const HEADFONT = 'Lato, Open Sans, sans-serif';
const OFF = [-0.19, 0, 0.19];
const ISO_W = 0.17, TOT_W = 0.62;
const JIT = [-0.13, 0.09, -0.03, 0.14, 0.04, -0.09];

const PANELS = [
  { key: 'pgQA', cats: TOT, ticks: pgQA_ticks, labels: pgQA_labels, box: pgQA_box, pts: pgQA_pts },
  { key: 'pgQL', cats: TOT, ticks: pgQL_ticks, labels: pgQL_labels, box: pgQL_box, pts: pgQL_pts },
  { key: 'pgQI', cats: ISO4, ticks: pgQI_ticks, labels: pgQI_labels, box: pgQI_box },
  { key: 'pgGA', cats: TOT, ticks: pgGA_ticks, labels: pgGA_labels, box: pgGA_box, pts: pgGA_pts },
  { key: 'pgGL', cats: TOT, ticks: pgGL_ticks, labels: pgGL_labels, box: pgGL_box, pts: pgGL_pts },
  { key: 'pgGI', cats: ISO4, ticks: pgGI_ticks, labels: pgGI_labels, box: pgGI_box, out: pgGI_out },
  { key: 'pyrQA', cats: TOT, ticks: pyrQA_ticks, labels: pyrQA_labels, box: pyrQA_box, pts: pyrQA_pts },
  { key: 'pyrQL', cats: TOT, ticks: pyrQL_ticks, labels: pyrQL_labels, box: pyrQL_box, pts: pyrQL_pts },
  { key: 'pyrQI', cats: ISO4, ticks: pyrQI_ticks, labels: pyrQI_labels, box: pyrQI_box },
  { key: 'pyrGA', cats: TOT, ticks: pyrGA_ticks, labels: pyrGA_labels, box: pyrGA_box, pts: pyrGA_pts },
  { key: 'pyrGL', cats: TOT, ticks: pyrGL_ticks, labels: pyrGL_labels, box: pyrGL_box, pts: pyrGL_pts },
  { key: 'pyrGI', cats: ISO4, ticks: pyrGI_ticks, labels: pyrGI_labels, box: pyrGI_box, out: pyrGI_out, ann: pyrGI_ann },
  { key: 'lacQA', cats: TOT, ticks: lacQA_ticks, labels: lacQA_labels, box: lacQA_box, pts: lacQA_pts },
  { key: 'lacQL', cats: TOT, ticks: lacQL_ticks, labels: lacQL_labels, box: lacQL_box, pts: lacQL_pts },
  { key: 'lacQI', cats: ISO4, ticks: lacQI_ticks, labels: lacQI_labels, box: lacQI_box, out: lacQI_out },
  { key: 'lacGA', cats: TOT, ticks: lacGA_ticks, labels: lacGA_labels, box: lacGA_box, pts: lacGA_pts, ann: lacGA_ann },
  { key: 'lacGL', cats: TOT, ticks: lacGL_ticks, labels: lacGL_labels, box: lacGL_box, pts: lacGL_pts },
  { key: 'lacGI', cats: ISO4, ticks: lacGI_ticks, labels: lacGI_labels, box: lacGI_box },
  { key: 'citQA', cats: TOT, ticks: citQA_ticks, labels: citQA_labels, box: citQA_box, pts: citQA_pts },
  { key: 'citQL', cats: TOT, ticks: citQL_ticks, labels: citQL_labels, box: citQL_box, pts: citQL_pts },
  { key: 'citQI', cats: ISO7, ticks: citQI_ticks, labels: citQI_labels, box: citQI_box, ann: citQI_ann },
  { key: 'citGA', cats: TOT, ticks: citGA_ticks, labels: citGA_labels, box: citGA_box, pts: citGA_pts },
  { key: 'citGL', cats: TOT, ticks: citGL_ticks, labels: citGL_labels, box: citGL_box, pts: citGL_pts },
  { key: 'citGI', cats: ISO7, ticks: citGI_ticks, labels: citGI_labels, box: citGI_box },
  { key: 'akgQA', cats: TOT, ticks: akgQA_ticks, labels: akgQA_labels, box: akgQA_box, pts: akgQA_pts },
  { key: 'akgQL', cats: TOT, ticks: akgQL_ticks, labels: akgQL_labels, box: akgQL_box, pts: akgQL_pts, ann: akgQL_ann },
  { key: 'akgQI', cats: ISO6, ticks: akgQI_ticks, labels: akgQI_labels, box: akgQI_box, ann: akgQI_ann },
  { key: 'akgGA', cats: TOT, ticks: akgGA_ticks, labels: akgGA_labels, box: akgGA_box, pts: akgGA_pts },
  { key: 'akgGL', cats: TOT, ticks: akgGL_ticks, labels: akgGL_labels, box: akgGL_box, pts: akgGL_pts },
  { key: 'akgGI', cats: ISO6, ticks: akgGI_ticks, labels: akgGI_labels, box: akgGI_box, ann: akgGI_ann },
  { key: 'sucQA', cats: TOT, ticks: sucQA_ticks, labels: sucQA_labels, box: sucQA_box, pts: sucQA_pts, ann: sucQA_ann },
  { key: 'sucQL', cats: TOT, ticks: sucQL_ticks, labels: sucQL_labels, box: sucQL_box, pts: sucQL_pts, ann: sucQL_ann },
  { key: 'sucQI', cats: ISO5, ticks: sucQI_ticks, labels: sucQI_labels, box: sucQI_box, out: sucQI_out, ann: sucQI_ann },
  { key: 'sucGA', cats: TOT, ticks: sucGA_ticks, labels: sucGA_labels, box: sucGA_box, pts: sucGA_pts, ann: sucGA_ann },
  { key: 'sucGL', cats: TOT, ticks: sucGL_ticks, labels: sucGL_labels, box: sucGL_box, pts: sucGL_pts },
  { key: 'sucGI', cats: ISO5, ticks: sucGI_ticks, labels: sucGI_labels, box: sucGI_box, out: sucGI_out, ann: sucGI_ann },
  { key: 'fumQA', cats: TOT, ticks: fumQA_ticks, labels: fumQA_labels, box: fumQA_box, pts: fumQA_pts },
  { key: 'fumQL', cats: TOT, ticks: fumQL_ticks, labels: fumQL_labels, box: fumQL_box, pts: fumQL_pts },
  { key: 'fumQI', cats: ISO5, ticks: fumQI_ticks, labels: fumQI_labels, box: fumQI_box, ann: fumQI_ann },
  { key: 'fumGA', cats: TOT, ticks: fumGA_ticks, labels: fumGA_labels, box: fumGA_box, pts: fumGA_pts },
  { key: 'fumGL', cats: TOT, ticks: fumGL_ticks, labels: fumGL_labels, box: fumGL_box, pts: fumGL_pts },
  { key: 'fumGI', cats: ISO5, ticks: fumGI_ticks, labels: fumGI_labels, box: fumGI_box },
  { key: 'malQA', cats: TOT, ticks: malQA_ticks, labels: malQA_labels, box: malQA_box, pts: malQA_pts },
  { key: 'malQL', cats: TOT, ticks: malQL_ticks, labels: malQL_labels, box: malQL_box, pts: malQL_pts, ann: malQL_ann },
  { key: 'malQI', cats: ISO5, ticks: malQI_ticks, labels: malQI_labels, box: malQI_box, ann: malQI_ann },
  { key: 'malGA', cats: TOT, ticks: malGA_ticks, labels: malGA_labels, box: malGA_box, pts: malGA_pts },
  { key: 'malGL', cats: TOT, ticks: malGL_ticks, labels: malGL_labels, box: malGL_box, pts: malGL_pts },
  { key: 'malGI', cats: ISO5, ticks: malGI_ticks, labels: malGI_labels, box: malGI_box }
];

// ---------- renderers ----------
function renderGridLine(params, api) {
  const y = api.value(2);
  const p1 = api.coord([api.value(0), y]);
  const p2 = api.coord([api.value(1), y]);
  return { type: 'line', shape: { x1: p1[0] + 2, y1: p1[1], x2: p2[0], y2: p2[1] },
    style: { stroke: '#c4c4c4', lineWidth: 0.9, lineDash: [1.2, 3.2] }, silent: true };
}
function renderBox(params, api) {
  const x = api.value(0), g = api.value(6), w = api.value(7);
  const pMin = api.coord([x, api.value(1)]);
  const pQ1 = api.coord([x, api.value(2)]);
  const pMed = api.coord([x, api.value(3)]);
  const pQ3 = api.coord([x, api.value(4)]);
  const pMax = api.coord([x, api.value(5)]);
  const half = api.size([w, 0])[0] / 2;
  const cx = pMed[0];
  const col = COLORS[g];
  return { type: 'group', silent: true, children: [
    { type: 'line', shape: { x1: cx, y1: pMax[1], x2: cx, y2: pQ3[1] }, style: { stroke: col, lineWidth: 0.8 } },
    { type: 'line', shape: { x1: cx, y1: pQ1[1], x2: cx, y2: pMin[1] }, style: { stroke: col, lineWidth: 0.8 } },
    { type: 'rect', shape: { x: cx - half, y: pQ3[1], width: 2 * half, height: Math.max(pQ1[1] - pQ3[1], 0.6) },
      style: { fill: FILLS[g], stroke: col, lineWidth: 0.8 } },
    { type: 'line', shape: { x1: cx - half, y1: pMed[1], x2: cx + half, y2: pMed[1] }, style: { stroke: col, lineWidth: 1.3 } }
  ] };
}
function makeAnnRenderer(texts) {
  return function (params, api) {
    const y = api.value(2);
    const a = api.coord([api.value(0), y]);
    const b = api.coord([api.value(1), y]);
    const children = [];
    if (Math.abs(b[0] - a[0]) > 1) {
      children.push({ type: 'polyline', shape: { points: [[a[0], a[1] + 3], [a[0], a[1]], [b[0], b[1]], [b[0], b[1] + 3]] },
        style: { stroke: '#333', lineWidth: 0.8, fill: null } });
    }
    children.push({ type: 'text', x: (a[0] + b[0]) / 2, y: a[1] + 2,
      style: { text: texts[params.dataIndex], fontSize: 9, fill: '#222', align: 'center', verticalAlign: 'bottom', fontFamily: TICKFONT } });
    return { type: 'group', silent: true, children };
  };
}
function makeCatLabelRenderer(cats) {
  return function (params, api) {
    const p = api.coord([api.value(0), api.value(1)]);
    return { type: 'text', x: p[0], y: p[1] + 3, silent: true,
      style: { text: cats[params.dataIndex], fontSize: 12, fill: '#222', align: 'center', verticalAlign: 'top', fontFamily: TICKFONT } };
  };
}

const grids = [], xAxes = [], yAxes = [], series = [];
PANELS.forEach((p, i) => {
  const L = LAYOUT[p.key];
  const gl = L[0], gr = L[1], c0 = L[2], c1 = L[3], top = L[4], bottom = L[5], ymin = L[6], ymax = L[7];
  const n = p.cats.length;
  const s = (c1 - c0) / (n - 1);
  const xmin = -(c0 - gl) / s, xmax = (n - 1) + (gr - c1) / s;
  const iso = p.cats !== TOT;
  grids.push({ left: gl, top: top, width: gr - gl, height: bottom - top, containLabel: false });
  const catIdx = p.cats.map((_, k) => k);
  xAxes.push({
    type: 'value', gridIndex: i, min: xmin, max: xmax,
    axisLine: { show: true, onZero: false, lineStyle: { color: AX, width: 1 } },
    axisTick: { show: true, customValues: catIdx, length: 3, lineStyle: { color: AX } },
    axisLabel: { show: false },
    splitLine: { show: false }
  });
  yAxes.push({
    type: 'value', gridIndex: i, min: ymin, max: ymax,
    axisLine: { show: true, onZero: false, lineStyle: { color: AX, width: 1 } },
    axisTick: { show: true, customValues: p.ticks, length: 3, lineStyle: { color: AX } },
    axisLabel: { show: true, customValues: p.ticks, fontSize: 10.5, color: '#3a3a3a', margin: 2, fontFamily: TICKFONT,
      showMinLabel: true, showMaxLabel: true, hideOverlap: false,
      formatter: v => { let best = 0; p.ticks.forEach((t, k) => { if (Math.abs(t - v) < Math.abs(p.ticks[best] - v)) best = k; }); return p.labels[best]; } },
    splitLine: { show: false }
  });
  // grid lines
  series.push({ type: 'custom', xAxisIndex: i, yAxisIndex: i, renderItem: renderGridLine, silent: true, z: 1,
    data: p.ticks.filter(t => t >= ymin && t <= ymax).map(t => [xmin, xmax, t]) });
  // category labels under the axis
  series.push({ type: 'custom', xAxisIndex: i, yAxisIndex: i, renderItem: makeCatLabelRenderer(p.cats), silent: true, z: 5,
    clip: false, data: catIdx.map(k => [k, ymin]) });
  // boxes
  const items = [];
  const pdata = [];
  if (!iso) {
    p.box.forEach((b, g) => items.push([g, b[0], b[1], b[2], b[3], b[4], g, TOT_W]));
    (p.pts || []).forEach((arr, g) => arr.forEach((v, k) =>
      pdata.push({ value: [g + JIT[k % JIT.length], v], itemStyle: { color: COLORS[g] } })));
  } else {
    p.box.forEach((trip, c) => trip.forEach((b, g) => {
      const x = c + OFF[g];
      items.push([x, b[0], b[1], b[2], b[3], b[4], g, ISO_W]);
      pdata.push({ value: [x - 0.04, b[0]], itemStyle: { color: COLORS[g] } });
      pdata.push({ value: [x + 0.04, b[4]], itemStyle: { color: COLORS[g] } });
    }));
    (p.out || []).forEach(o => pdata.push({ value: [o[0] + OFF[o[1]], o[2]], itemStyle: { color: COLORS[o[1]] } }));
  }
  series.push({ type: 'custom', xAxisIndex: i, yAxisIndex: i, renderItem: renderBox, silent: true, z: 2, data: items });
  series.push({ type: 'scatter', xAxisIndex: i, yAxisIndex: i, symbolSize: 2.8, silent: true, z: 3, data: pdata });
  if (p.ann && p.ann.length) {
    series.push({ type: 'custom', xAxisIndex: i, yAxisIndex: i, renderItem: makeAnnRenderer(p.ann.map(a => a[3])),
      silent: true, z: 4, data: p.ann.map(a => [a[0], a[1], a[2]]) });
  }
});

// ---------- text decorations ----------
const graphics = [];
function txt(x, y, text, size, opts) {
  graphics.push(Object.assign({ type: 'text', x: x, y: y, silent: true,
    style: Object.assign({ text: text, fontSize: size, fontFamily: HEADFONT, fill: '#111', align: 'center', verticalAlign: 'middle' }, (opts && opts.style) || {}) },
    (opts && opts.rotation !== undefined) ? { rotation: opts.rotation } : {}));
}
// panel letters
txt(9, 10, 'a', 14, { style: { fontWeight: 'bold', fontFamily: 'Liberation Sans, Arial' } });
txt(395, 7, 'b', 14, { style: { fontWeight: 'bold', fontFamily: 'Liberation Sans, Arial' } });
// titles with isotope notation
function isoTitle(x0, pieces) {
  let x = x0;
  pieces.forEach(pc => {
    txt(x, pc[2], pc[0], pc[1], { style: { align: 'left' } });
    x += pc[3];
  });
}
isoTitle(128, [['[', 17, 17, 5], ['13', 9.5, 12, 10], ['C', 17, 17, 11], ['5', 9.5, 23, 5], [']Glutamine', 17, 17, 0]]);
isoTitle(521, [['[', 17, 18, 5], ['13', 9.5, 13, 10], ['C', 17, 18, 11], ['6', 9.5, 24, 5], [']Glucose', 17, 18, 0]]);
graphics.push({ type: 'line', shape: { x1: 50, y1: 32, x2: 337, y2: 32 }, style: { stroke: '#222', lineWidth: 1 }, silent: true });
graphics.push({ type: 'line', shape: { x1: 418, y1: 32, x2: 705, y2: 32 }, style: { stroke: '#222', lineWidth: 1 }, silent: true });
// legend
const LEG_X = [315, 362, 406];
GROUP_NAMES.forEach((nm, g) => {
  const x = LEG_X[g];
  graphics.push({ type: 'rect', shape: { x: x, y: 16, width: 9, height: 9 }, style: { fill: FILLS[g], stroke: COLORS[g], lineWidth: 0.8 }, silent: true });
  txt(x + 12, 21, 'WM', 9.5, { style: { align: 'left', fontFamily: TICKFONT, fill: '#222' } });
  txt(x + 27, 18, nm, 6.5, { style: { align: 'left', fontFamily: TICKFONT, fill: '#222' } });
});
// column headers
const HEAD_X = [78, 169, 305, 447, 540, 676];
HEAD_X.forEach((x, k) => txt(x, 50, COL_NAMES[k % 3], 14));
// separator
graphics.push({ type: 'line', shape: { x1: 391, y1: 82, x2: 391, y2: 1040 }, style: { stroke: '#9a9a9a', lineWidth: 1 }, silent: true });
// row labels and y titles
const ROW_KEYS = ['pgQA', 'pyrQA', 'lacQA', 'citQA', 'akgQA', 'sucQA', 'fumQA', 'malQA'];
ROW_KEYS.forEach((k, r) => {
  const L = LAYOUT[k];
  const mid = (L[4] + L[5]) / 2;
  txt(12, mid + 2, ROW_NAMES[r], 15, { rotation: Math.PI / 2 });
  txt(37, mid, 'nmol/mg dry tissue', 10, { rotation: Math.PI / 2, style: { fontFamily: TICKFONT, fill: '#222' } });
});

const chart = echarts.init(document.getElementById('c'), null, { renderer: 'canvas' });
chart.setOption({
  backgroundColor: '#fff',
  animation: false,
  grid: grids, xAxis: xAxes, yAxis: yAxes, series: series,
  graphic: { elements: graphics }
});
</script></body></html>
